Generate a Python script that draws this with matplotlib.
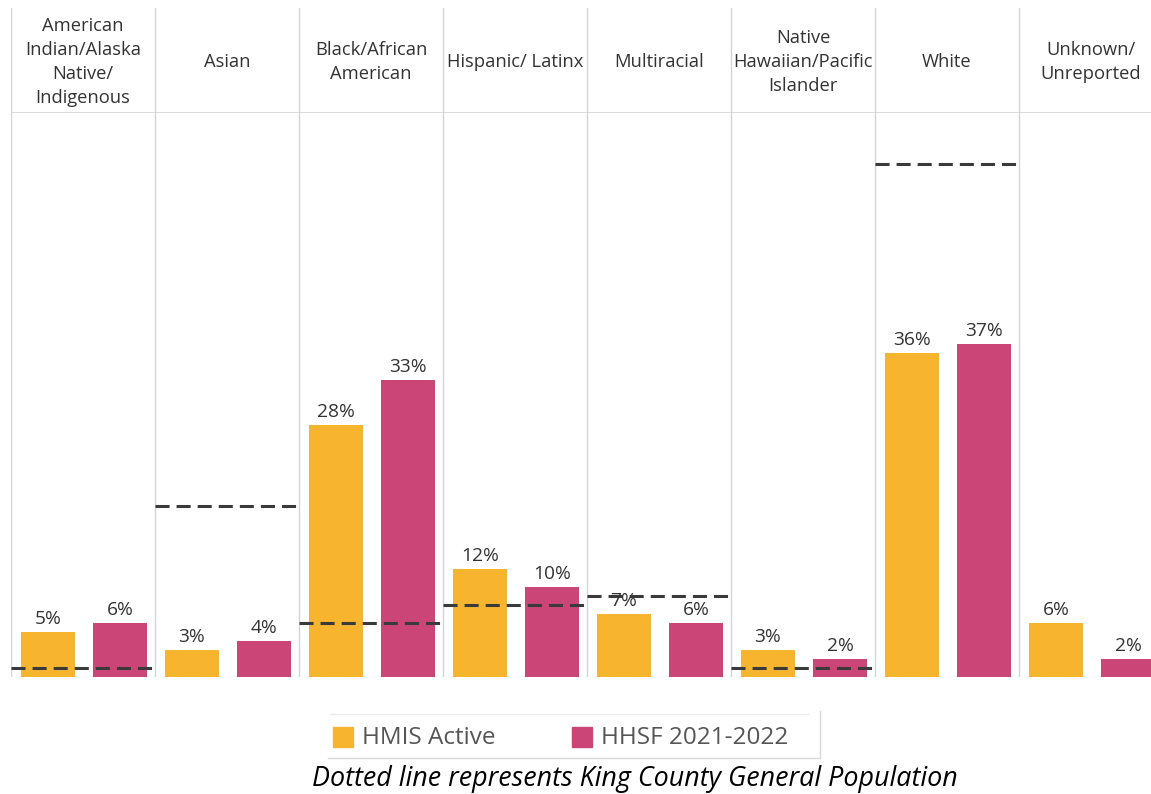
import matplotlib
matplotlib.use("Agg")
import matplotlib.pyplot as plt
from matplotlib.patches import Rectangle
from matplotlib.lines import Line2D

# Race / ethnicity categories (panel headers)
categories = [
    "American\nIndian/Alaska\nNative/\nIndigenous",
    "Asian",
    "Black/African\nAmerican",
    "Hispanic/ Latinx",
    "Multiracial",
    "Native\nHawaiian/Pacific\nIslander",
    "White",
    "Unknown/\nUnreported",
]
# Share of people (%) in each group
hmis_active = [5, 3, 28, 12, 7, 3, 36, 6]
hhsf_2021_2022 = [6, 4, 33, 10, 6, 2, 37, 2]
# King County general population (%); no reference for Unknown
king_county = [1, 19, 6, 8, 9, 1, 57, None]

series_names = ["HMIS Active", "HHSF 2021-2022"]
caption = "Dotted line represents King County General Population"

YELLOW = "#F7B52F"
PINK = "#CB4677"
GRID = "#D4D4D4"
TEXT = "#333333"

W, H = 1151, 794
fig = plt.figure(figsize=(W / 100, H / 100), dpi=100)

def fx(px):
    return px / W

def fy(py):
    return 1 - py / H

panel_px = 144
left_px = 11
n = len(categories)
right_px = left_px + n * panel_px

# Main bar area
ax = fig.add_axes([fx(left_px), fy(677), fx(right_px) - fx(left_px), fy(113) - fy(677)])
ax.set_xlim(0, n)
ax.set_ylim(0, 62.67)
ax.axis("off")

bw = 0.375
off_a, off_b = 0.257, 0.757
for i in range(n):
    ax.bar(i + off_a, hmis_active[i], width=bw, color=YELLOW, zorder=2)
    ax.bar(i + off_b, hhsf_2021_2022[i], width=bw, color=PINK, zorder=2)
    for x, v in ((i + off_a, hmis_active[i]), (i + off_b, hhsf_2021_2022[i])):
        ax.annotate(f"{v}%", (x, v), xytext=(0, 5.8), textcoords="offset points",
                    ha="center", va="baseline", fontsize=13.8, color=TEXT,
                    family="Open Sans", zorder=4)
    if king_county[i] is not None:
        ax.plot([i, i + 1], [king_county[i]] * 2, color="#3a3a3a", lw=2.2,
                linestyle=(0, (4.6, 2.3)), solid_capstyle="butt",
                dash_capstyle="butt", zorder=3)

# Panel separators and baseline
for i in range(n + 1):
    ax.axvline(i, color=GRID, lw=1, zorder=1)
ax.axhline(0, color="#E4E4E4", lw=1, zorder=1)

# Header row
hx = fig.add_axes([fx(left_px), fy(113), fx(right_px) - fx(left_px), fy(8) - fy(113)])
hx.set_xlim(0, n)
hx.set_ylim(0, 1)
hx.axis("off")
for i in range(n + 1):
    hx.axvline(i, color=GRID, lw=1)
hx.axhline(0, color=GRID, lw=1.2)
for i, name in enumerate(categories):
    hx.text(i + 0.5, 0.49, name, ha="center", va="center", fontsize=13.2,
            color=TEXT, family="Open Sans", linespacing=1.43)

# Legend
fig.add_artist(Line2D([fx(330), fx(808)], [fy(714), fy(714)], color="#EBEBEB", lw=1))
fig.add_artist(Line2D([fx(820), fx(820)], [fy(711), fy(758)], color="#D8D8D8", lw=1))
fig.add_artist(Line2D([fx(328), fx(820)], [fy(758), fy(758)], color="#D8D8D8", lw=1))
for sx, color, label in ((333, YELLOW, series_names[0]), (572, PINK, series_names[1])):
    fig.add_artist(Rectangle((fx(sx), fy(747)), fx(20), fy(727) - fy(747),
                             color=color, transform=fig.transFigure))
    fig.text(fx(sx + 29), fy(738), label, ha="left", va="center", fontsize=17.5,
             color="#555555", family="Open Sans")

fig.text(fx(635), fy(779), caption, ha="center", va="center", fontsize=19.4,
         style="italic", color="black", family="Open Sans")

fig.savefig("out.png", dpi=100)
